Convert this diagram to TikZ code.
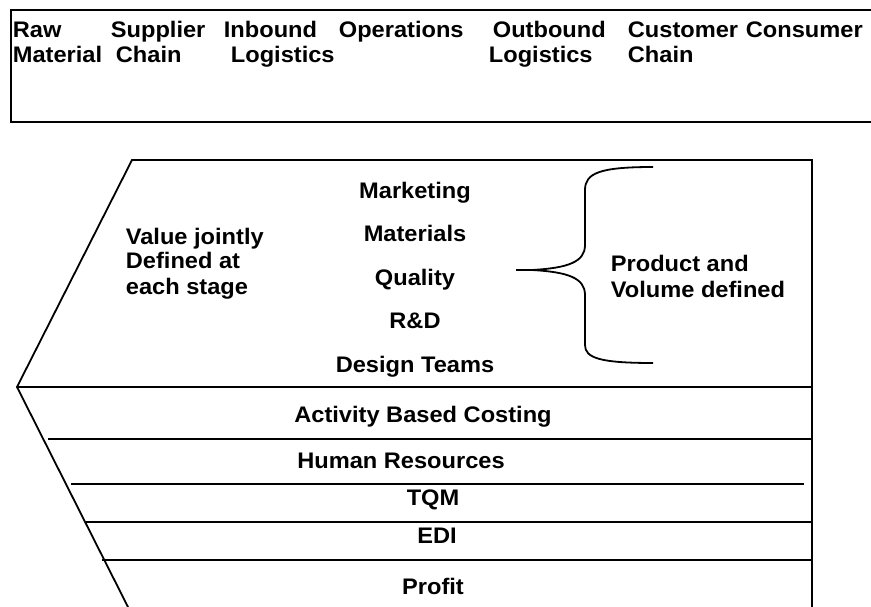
\documentclass[tikz,border=0pt]{standalone}
\usepackage{fontspec}
\setmainfont{Liberation Sans}[FakeStretch=1.05]
\begin{document}
\begin{tikzpicture}[x=1pt,y=-1pt,line width=1.8pt,line cap=butt,
  lbl/.style={font=\fontsize{22.5}{26}\selectfont\bfseries,inner sep=0pt,anchor=base},
  lblw/.style={lbl,anchor=base west}]
\useasboundingbox (0,0) rectangle (871,607);
% top band
\draw (871,10) -- (11,10) -- (11,122) -- (871,122);
\node[lblw] (raw1) at (12,38) {Raw};
\node[lblw] (raw2) at (12,63) {Material};
\node[lblw] (sup1) at (110,38) {Supplier};
\node[lblw] (sup2) at (115,63) {Chain};
\node[lblw] (inb1) at (223,38) {Inbound};
\node[lblw] (inb2) at (230,63) {Logistics};
\node[lblw] (ops1) at (338,38) {Operations};
\node[lblw] (outb1) at (492,38) {Outbound};
\node[lblw] (outb2) at (488,63) {Logistics};
\node[lblw] (cus1) at (627,38) {Customer};
\node[lblw] (cus2) at (627,63) {Chain};
\node[lblw] (con1) at (745,38) {Consumer};
% chevron shape
\coordinate (tl) at (132,160);
\coordinate (tr) at (812,160);
\coordinate (br) at (812,607);
\coordinate (lp) at (17,387);
\coordinate (bl) at (128,607);
\draw[line join=miter] (br) -- (tr) -- (tl) -- (lp) -- (bl);
\draw (lp) -- (812,387);
\draw (48,439) -- (812,439);
\draw (71,484) -- (804,484);
\draw (86,522) -- (812,522);
\draw (102,560) -- (812,560);
% upper texts
\node[lblw] (v1) at (125,244) {Value jointly};
\node[lblw] (v2) at (125,269) {Defined at};
\node[lblw] (v3) at (125,294) {each stage};
\node[lbl] (mk) at (415,199) {Marketing};
\node[lbl] (mt) at (415,242) {Materials};
\node[lbl] (ql) at (415,285) {Quality};
\node[lbl] (rd) at (415,328) {R\&D};
\node[lbl] (dt) at (415,372) {Design Teams};
\node[lblw] (p1) at (610,272) {Product and};
\node[lblw] (p2) at (610,298) {Volume defined};
% brace
\coordinate (tip) at (516,270);
\draw (tip) -- (532,270) .. controls (568,268) and (585,262) .. (585,245)
  -- (585,190) .. controls (585,173) and (600,167) .. (653,167);
\draw (532,270) .. controls (568,272) and (585,278) .. (585,295)
  -- (585,345) .. controls (585,358) and (600,363) .. (653,363);
% layers
\node[lbl] (abc) at (423,422) {Activity Based Costing};
\node[lbl] (hr) at (401,468) {Human Resources};
\node[lbl] (tqm) at (433,505) {TQM};
\node[lbl] (edi) at (437,543) {EDI};
\node[lbl] (prof) at (433,594) {Profit};
\end{tikzpicture}
\end{document}
